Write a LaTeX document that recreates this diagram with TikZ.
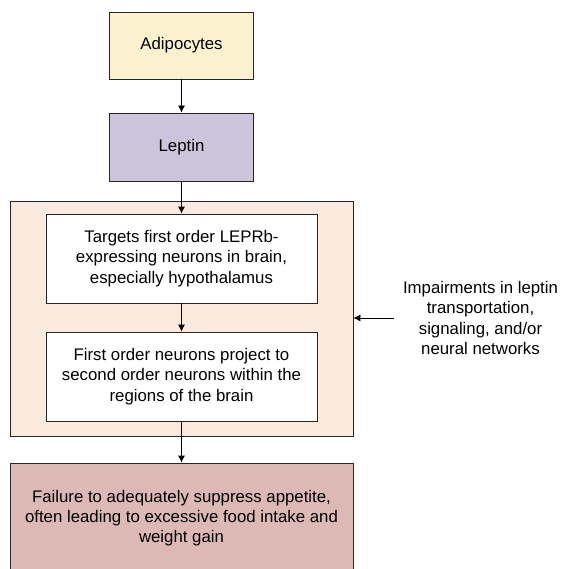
\documentclass[tikz,border=0pt]{standalone}
\usepackage{fontspec}
\setmainfont{Liberation Sans}
\usetikzlibrary{arrows.meta}
\definecolor{adipofill}{HTML}{FCF1CE}
\definecolor{leptinfill}{HTML}{CBC4DB}
\definecolor{regionfill}{HTML}{F9EADD}
\definecolor{failfill}{HTML}{DDB9B6}
\tikzset{
	box/.style={draw=black!85, line width=0.8pt, align=center, inner sep=0pt, font=\fontsize{16.8}{20.3}\selectfont},
	flow/.style={draw=black, line width=0.8pt, -{Latex[length=7pt,width=7pt]}}
}

\begin{document}
\begin{tikzpicture}[x=1pt, y=1pt]
		%%%%% START %%%%%
		\useasboundingbox (0, 0) rectangle (560, -569);
		
		\node[box, fill=regionfill, minimum width=343, minimum height=235] (region) at (181.5, -318.5) {};
		
		\node[box, fill=adipofill, minimum width=144, minimum height=67] (adipo) at (181.5, -45.5) {Adipocytes};
		\node[box, fill=leptinfill, minimum width=144, minimum height=68] (leptin) at (181.5, -147) {Leptin};
		
		\node[box, fill=white, minimum width=271, minimum height=89] (target) at (181.5, -258.5) {Targets first order LEPRb-\\expressing neurons in brain,\\especially hypothalamus};
		\node[box, fill=white, minimum width=271, minimum height=89] (project) at (181.5, -376.5) {First order neurons project to\\second order neurons within the\\regions of the brain};
		
		\node[box, fill=failfill, minimum width=343, minimum height=110] (failure) at (181.5, -518) {Failure to adequately suppress appetite,\\often leading to excessive food intake and\\weight gain};
		
		\node[box, draw=none, inner xsep=9pt] (impair) at (480.5, -318) {Impairments in leptin\\transportation,\\signaling, and/or\\neural networks};
		
		\draw[flow] (adipo) -- (leptin);
		\draw[flow] (leptin) -- (target);
		\draw[flow] (target) -- (project);
		\draw[flow] (project.south) -- (failure.north);
		\draw[flow] (impair.west) -- (impair.west -| region.east);
		%%%%% END %%%%%
	\end{tikzpicture}
\end{document}
